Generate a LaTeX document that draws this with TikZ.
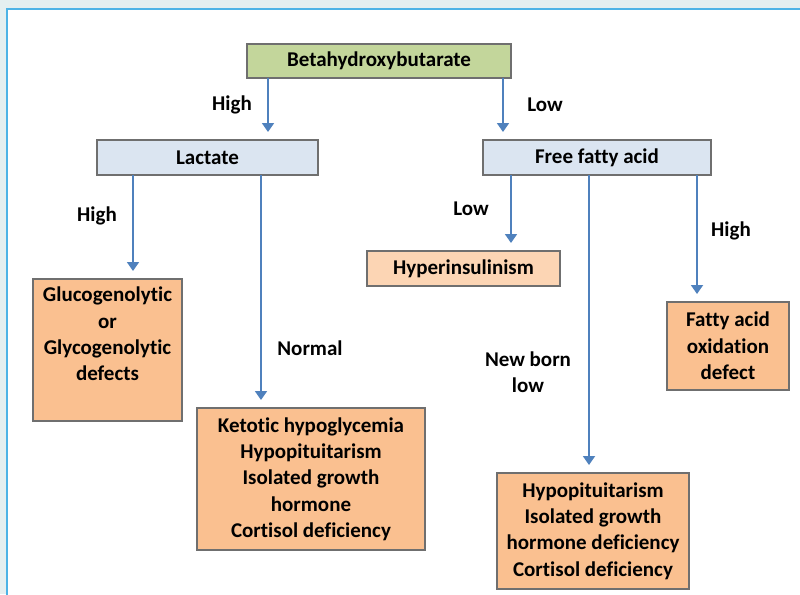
\documentclass[tikz,border=0pt]{standalone}
\usepackage{fontspec}
\setmainfont{Carlito}[Ligatures=NoCommon]
\usetikzlibrary{arrows.meta}
\definecolor{bgc}{HTML}{E4EFF0}
\definecolor{framec}{HTML}{4DB3E6}
\definecolor{greenc}{HTML}{C3D69B}
\definecolor{bluec}{HTML}{DBE5F1}
\definecolor{orangec}{HTML}{FAC090}
\definecolor{peachc}{HTML}{FCD5B4}
\definecolor{edgec}{HTML}{6F6F6F}
\definecolor{arrowc}{HTML}{4F81BD}
\tikzset{
  box/.style={draw=edgec, line width=1.2pt, inner sep=0pt, outer sep=0pt},
  txt/.style={font=\fontsize{21}{26.3}\selectfont\bfseries, align=center, inner sep=0pt},
  lbl/.style={font=\fontsize{21}{26.5}\selectfont\bfseries, align=center, inner sep=0pt},
  arr/.style={draw=arrowc, line width=1.8pt, -{Triangle[length=9pt,width=12pt]}, shorten >=8pt}
}
\begin{document}
\begin{tikzpicture}[x=1pt,y=-1pt]
\useasboundingbox (0,0) rectangle (800,594);
\fill[bgc] (0,0) rectangle (800,594);
\filldraw[fill=white, draw=framec, line width=2pt] (7,9) rectangle (815,610);

% boxes
\node[box, fill=greenc, minimum width=264pt, minimum height=34pt, txt] (beta) at (379,61) {Betahydroxybutarate};
\node[box, fill=bluec, minimum width=221pt, minimum height=35pt, txt] (lac) at (207.5,157.5) {Lactate};
\node[box, fill=bluec, minimum width=228pt, minimum height=35pt, txt] (ffa) at (597,157.5) {Free fatty acid};
\node[box, fill=orangec, minimum width=149pt, minimum height=142pt] (glu) at (107.5,350) {};
\node[txt, anchor=north] (glut) at ([yshift=-8pt]glu.north) {Glucogenolytic\\or\\Glycogenolytic\\defects};
\node[box, fill=orangec, minimum width=228pt, minimum height=142pt, txt] (ket) at (311,479) {Ketotic hypoglycemia\\Hypopituitarism\\Isolated growth\\hormone\\Cortisol deficiency};
\node[box, fill=peachc, minimum width=193pt, minimum height=35pt, txt] (hyp) at (463.5,268.5) {Hyperinsulinism};
\node[box, fill=orangec, minimum width=122pt, minimum height=88pt, txt] (fat) at (728,346) {Fatty acid\\oxidation\\defect};
\node[box, fill=orangec, minimum width=192pt, minimum height=116pt, txt] (bot) at (593,531) {Hypopituitarism\\Isolated growth\\hormone deficiency\\Cortisol deficiency};

% arrows
\draw[arr] (beta.south -| 268,0) -- (lac.north -| 268,0);
\draw[arr] (beta.south -| 503,0) -- (ffa.north -| 503,0);
\draw[arr] (lac.south -| 133,0) -- (glu.north -| 133,0);
\draw[arr] (lac.south -| 261,0) -- (ket.north -| 261,0);
\draw[arr] (ffa.south -| 511,0) -- (hyp.north -| 511,0);
\draw[arr] (ffa.south -| 589,0) -- (bot.north -| 589,0);
\draw[arr] (ffa.south -| 697,0) -- (fat.north -| 697,0);

% labels
\node[lbl] (l1) at (232,105) {High};
\node[lbl] (l2) at (545,105) {Low};
\node[lbl] (l3) at (97,216) {High};
\node[lbl] (l4) at (310,348) {Normal};
\node[lbl] (l5) at (471,209) {Low};
\node[lbl] (l6) at (528,372) {New born\\low};
\node[lbl] (l7) at (731,231) {High};
\end{tikzpicture}
\end{document}
